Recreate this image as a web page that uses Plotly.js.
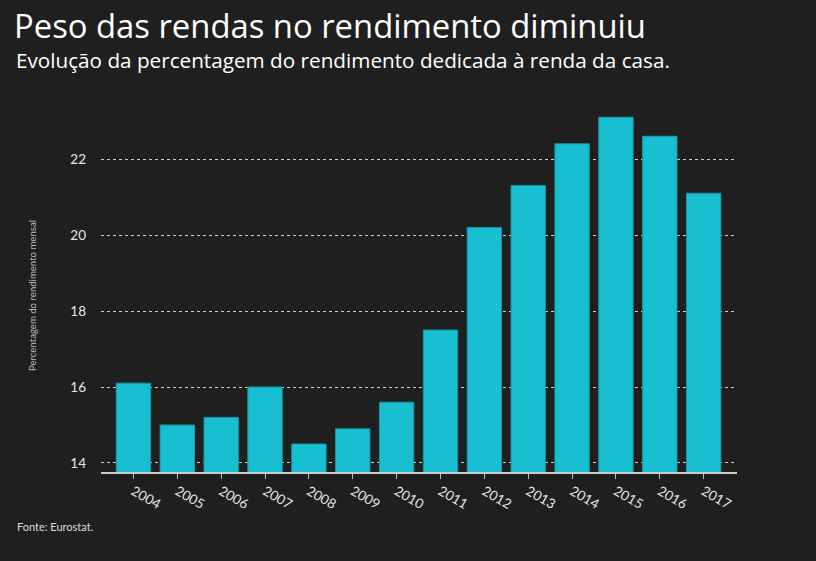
<!DOCTYPE html>
<html>
<head>
<meta charset="utf-8">
<script src="https://cdn.plot.ly/plotly-3.0.1.min.js"></script>
<style>html,body{margin:0;padding:0;background:#1f1f1f;}#chart{width:816px;height:561px;}</style>
</head>
<body>
<div id="chart"></div>
<script>
const years = ["2004","2005","2006","2007","2008","2009","2010","2011","2012","2013","2014","2015","2016","2017"];
const shareOfIncome = [16.1, 15.0, 15.2, 16.0, 14.5, 14.9, 15.6, 17.5, 20.2, 21.3, 22.4, 23.1, 22.6, 21.1];
const yTicks = [14, 16, 18, 20, 22];

const FONT = "Lato, 'Open Sans', sans-serif";
const TFONT = "'Open Sans', Lato, sans-serif";
const L = 101, R = 737, T = 110, B = 472;
const px2x = px => (px - L) / (R - L);
const py2y = py => (B - py) / (B - T);

const trace = {
  type: 'bar',
  x: years,
  y: shareOfIncome,
  marker: {color: '#18bfd0', line: {color: '#1597a6', width: 1}},
  hoverinfo: 'x+y'
};

const layout = {
  width: 816, height: 561,
  paper_bgcolor: '#1f1f1f', plot_bgcolor: '#1f1f1f',
  margin: {l: L, r: 816 - R, t: T, b: 561 - B, pad: 0},
  bargap: 0.216,
  showlegend: false,
  font: {family: FONT, color: '#e6e6e6'},
  title: {
    text: 'Peso das rendas no rendimento diminuiu',
    font: {family: TFONT, size: 32.8, color: '#ffffff'},
    x: 14 / 816, xanchor: 'left', xref: 'container',
    y: 1 - 27 / 561, yanchor: 'middle', yref: 'container'
  },
  xaxis: {
    type: 'category',
    range: [-0.74, 13.76],
    tickangle: 30,
    tickfont: {family: FONT, size: 13.5, color: '#e6e6e6'},
    ticks: 'outside', ticklen: 5, tickcolor: '#bbbbbb', tickwidth: 1,
    showline: true, linecolor: '#cccccc', linewidth: 1.5,
    showgrid: false, zeroline: false, fixedrange: true
  },
  yaxis: {
    range: [13.763, 23.29],
    tickvals: yTicks,
    ticktext: yTicks.map(String),
    tickfont: {family: FONT, size: 13.5, color: '#e6e6e6'},
    ticks: '', ticklabelstandoff: 14,
    showgrid: true, gridcolor: '#d0d0d0', gridwidth: 1, griddash: 'dot',
    showline: false, zeroline: false, fixedrange: true
  },
  annotations: [
    {
      text: 'Evolução da percentagem do rendimento dedicada à renda da casa.',
      xref: 'paper', yref: 'paper', x: px2x(14), y: py2y(60),
      xanchor: 'left', yanchor: 'middle', showarrow: false,
      font: {family: TFONT, size: 20.7, color: '#ffffff'}
    },
    {
      text: 'Percentagem do rendimento mensal',
      xref: 'paper', yref: 'paper', x: px2x(32), y: py2y(296),
      xanchor: 'center', yanchor: 'middle', textangle: -90, showarrow: false,
      font: {family: FONT, size: 9.6, color: '#bbbbbb'}
    },
    {
      text: 'Fonte: Eurostat.',
      xref: 'paper', yref: 'paper', x: px2x(15), y: py2y(526),
      xanchor: 'left', yanchor: 'middle', showarrow: false,
      font: {family: FONT, size: 11, color: '#dddddd'}
    }
  ]
};

Plotly.newPlot('chart', [trace], layout, {displayModeBar: false, staticPlot: true});
</script>
</body>
</html>
